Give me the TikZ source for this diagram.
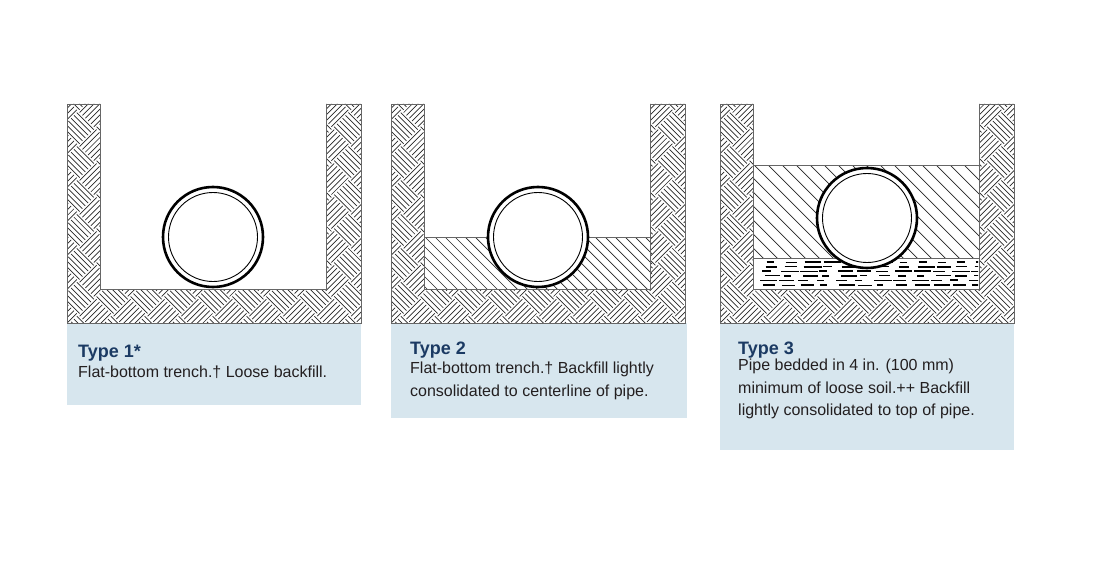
\documentclass[tikz,border=0pt]{standalone}
\usepackage{fontspec}
\setmainfont{Liberation Sans}
\definecolor{capbg}{HTML}{D7E6EE}
\definecolor{navy}{HTML}{1B3A63}
\definecolor{txt}{HTML}{231F20}
\newcommand{\soilpat}[2]{%
 \begin{scope}[shift={(#1,#2)},rotate=45]
  \foreach \i in {-9,...,9}{\foreach \j in {-9,...,9}{%
   \pgfmathtruncatemacro{\myparity}{mod(\i+\j+100,2)}%
   \ifnum\myparity=0
    \foreach \k in {0,...,5}{\draw[hl] (\i*24,\j*24+\k*4+2) -- ++(24,0);}
   \else
    \foreach \k in {0,...,5}{\draw[hl] (\i*24+\k*4+2,\j*24) -- ++(0,24);}
   \fi}}
 \end{scope}}
\newcommand{\trench}[1]{%
 \begin{scope}
  \clip (#1,104) -- (#1+33,104) -- (#1+33,289) -- (#1+259,289) -- (#1+259,104) -- (#1+294,104) -- (#1+294,323) -- (#1,323) -- cycle;
  \soilpat{#1+147}{213}
 \end{scope}
 \draw[edge] (#1,104) -- (#1+33,104) -- (#1+33,289) -- (#1+259,289) -- (#1+259,104) -- (#1+294,104) -- (#1+294,323) -- (#1,323) -- cycle;}
\newcommand{\pipe}[2]{%
 \draw[line width=2.6pt,fill=white] (#1,#2) circle (50);
 \draw[line width=0.9pt] (#1,#2) circle (44.5);}
\begin{document}
\begin{tikzpicture}[x=1pt,y=-1pt,
 hl/.style={line width=0.7pt,black!85},
 edge/.style={line width=0.6pt,black!60},
 capbox/.style={fill=capbg,draw=none},
 ttl/.style={anchor=base west,font=\bfseries\fontsize{18}{20}\selectfont,text=navy,inner sep=0},
 body/.style={anchor=north west,font=\fontsize{16}{22.5}\selectfont,text=txt,inner sep=0,align=left}]
\useasboundingbox (0,0) rectangle (1100,575);
\fill[white] (0,0) rectangle (1100,575);
% captions
\fill[capbox] (67,323) rectangle (361,405);
\fill[capbox] (391,323) rectangle (687,418);
\fill[capbox] (720,323) rectangle (1014,450);
% panel 1
\trench{67}
\pipe{213}{237}
% panel 2
\begin{scope}
 \clip (425,237) rectangle (652,289);
 \foreach \t in {-30,...,40}{\draw[hl] (425+\t*10,237) -- ++(60,60);}
\end{scope}
\draw[edge] (425,237) -- (652,237);
\trench{391}
\pipe{538}{237}
% panel 3
\begin{scope}
 \clip (754,165) rectangle (980,258);
 \foreach \t in {-12,...,20}{\draw[hl] (754+\t*14,165) -- ++(100,100);}
\end{scope}
\begin{scope}
 \clip (756,259) rectangle (978,288);
 \pgfmathsetseed{7}
 \foreach \r in {0,...,5}{
  \pgfmathsetmacro{\yy}{262+\r*4.6}
  \pgfmathsetmacro{\off}{rnd*10}
  \foreach \c in {0,...,11}{
   \pgfmathsetmacro{\len}{6+rnd*12}
   \pgfmathsetmacro{\lw}{0.8+rnd*1.4}
   \draw[line width=\lw pt] (758+\off+\c*19,\yy) -- ++(\len,0);}}
\end{scope}
\draw[edge] (754,165) -- (980,165);
\draw[edge] (754,258) -- (980,258);
\trench{720}
\pipe{867}{218}
% texts
\node[ttl] (t1) at (78,357) {Type 1*};
\node[body] (b1) at (78,366) {Flat-bottom trench.† Loose backfill.};
\node[ttl] (t2) at (410,354) {Type 2};
\node[body] (b2) at (410,362) {Flat-bottom trench.† Backfill lightly\\consolidated to centerline of pipe.};
\node[ttl] (t3) at (738,354) {Type 3};
\node[body] (b3) at (738,359) {Pipe bedded in 4 in. (100 mm)\\minimum of loose soil.++ Backfill\\lightly consolidated to top of pipe.};
\end{tikzpicture}
\end{document}
